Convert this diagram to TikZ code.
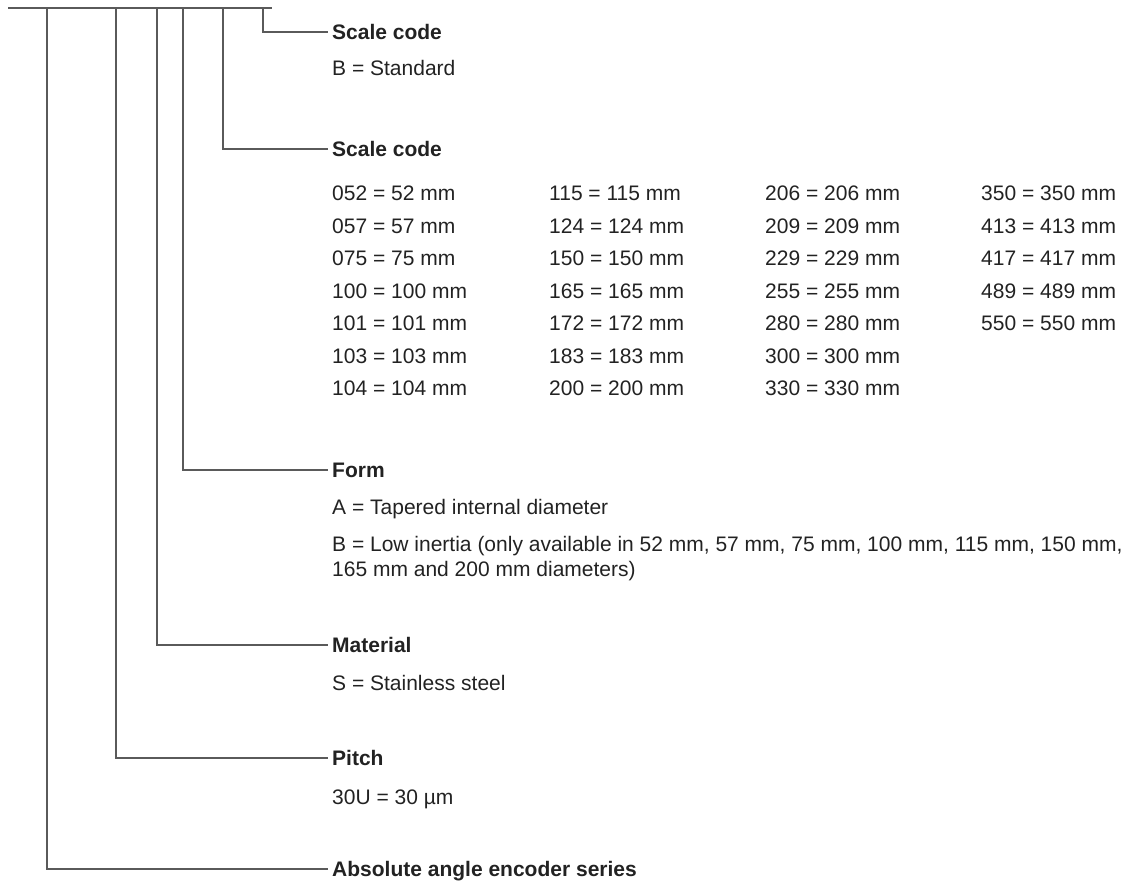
\documentclass[tikz,border=0pt]{standalone}
\usepackage{fontspec}
\setmainfont{Liberation Sans}
\usetikzlibrary{positioning}
\definecolor{linegray}{HTML}{5A5A5A}
\definecolor{textdark}{HTML}{222222}
\tikzstyle{heading} = [
    anchor=west,
    inner xsep=4pt,
    inner ysep=0pt,
    text height=15pt,
    text depth=0pt,
    font=\fontsize{21}{25}\selectfont\bfseries,
    text=textdark
]
\tikzstyle{entry} = [
    anchor=west,
    inner sep=0pt,
    text height=15pt,
    text depth=0pt,
    font=\fontsize{21}{25.5}\selectfont,
    text=textdark
]
\tikzstyle{leader} = [draw=linegray, line width=1.9pt]

\begin{document}
\begin{tikzpicture}[x=1pt, y=-1pt]
\useasboundingbox (0,0) rectangle (1141,884);

% top bar
\coordinate (barl) at (8,8);
\coordinate (barr) at (272,8);
\coordinate (t1) at (47,8);
\coordinate (t2) at (116,8);
\coordinate (t3) at (157,8);
\coordinate (t4) at (183,8);
\coordinate (t5) at (223,8);
\coordinate (t6) at (263,8);
\draw [leader] (barl) -- (barr);

% headings
\node (head1) [heading] at (328,32) {Scale code};
\node (head2) [heading] at (328,149) {Scale code};
\node (form) [heading] at (328,470) {Form};
\node (material) [heading] at (328,645) {Material};
\node (pitch) [heading] at (328,758) {Pitch};
\node (series) [heading] at (328,869) {Absolute angle encoder series};

\draw [leader] (t6) |- (head1.west);
\draw [leader] (t5) |- (head2.west);
\draw [leader] (t4) |- (form.west);
\draw [leader] (t3) |- (material.west);
\draw [leader] (t2) |- (pitch.west);
\draw [leader] (t1) |- (series.west);

% entries
\node (std) [entry] at (332,68) {B = Standard};

\foreach \txt [count=\i] in {052 = 52 mm, 057 = 57 mm, 075 = 75 mm,
    100 = 100 mm, 101 = 101 mm, 103 = 103 mm, 104 = 104 mm}
  \node (ca\i) [entry] at (332,160.5+32.5*\i) {\txt};
\foreach \txt [count=\i] in {115 = 115 mm, 124 = 124 mm, 150 = 150 mm,
    165 = 165 mm, 172 = 172 mm, 183 = 183 mm, 200 = 200 mm}
  \node (cb\i) [entry] at (549,160.5+32.5*\i) {\txt};
\foreach \txt [count=\i] in {206 = 206 mm, 209 = 209 mm, 229 = 229 mm,
    255 = 255 mm, 280 = 280 mm, 300 = 300 mm, 330 = 330 mm}
  \node (cc\i) [entry] at (765,160.5+32.5*\i) {\txt};
\foreach \txt [count=\i] in {350 = 350 mm, 413 = 413 mm, 417 = 417 mm,
    489 = 489 mm, 550 = 550 mm}
  \node (cd\i) [entry] at (981,160.5+32.5*\i) {\txt};

\node (taper) [entry] at (332,507) {A = Tapered internal diameter};
\node (lowin) [entry, anchor=base west, text height=, text depth=, align=left]
  at (332,576.5)
{B = Low inertia (only available in 52 mm, 57 mm, 75 mm, 100 mm, 115 mm, 150 mm,\\
165 mm and 200 mm diameters)};

\node (steel) [entry] at (332,683) {S = Stainless steel};
\node (thirty) [entry] at (332,797) {30U = 30 µm};

\end{tikzpicture}
\end{document}
